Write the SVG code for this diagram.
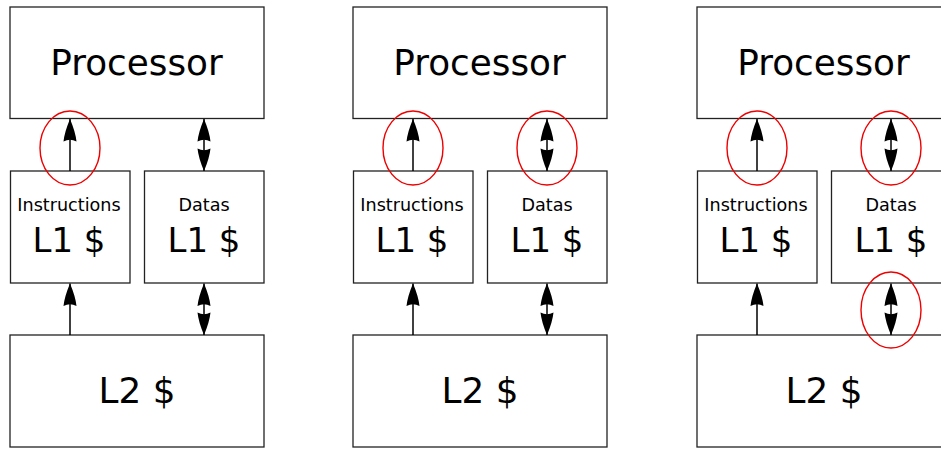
<svg xmlns="http://www.w3.org/2000/svg" xmlns:xlink="http://www.w3.org/1999/xlink" width="941" height="449" viewBox="0 0 941 449">
<style>
.box{fill:#fff;stroke:#222;stroke-width:1.3}
.big{font-family:"DejaVu Sans",sans-serif;font-size:35.8px;fill:#000;text-anchor:middle}
.l1{font-family:"DejaVu Sans",sans-serif;font-size:34px;fill:#000;text-anchor:middle}
.small{font-family:"DejaVu Sans",sans-serif;font-size:17.6px;fill:#000;text-anchor:middle}
.conn{stroke:#000;stroke-width:1.5;fill:none}
.hl{fill:none;stroke:#e00;stroke-width:1.4}
</style>
<defs>
<marker id="ah" viewBox="0 0 23 14" markerUnits="userSpaceOnUse" markerWidth="23" markerHeight="14" refX="23" refY="7" orient="auto-start-reverse">
<path d="M23,7 Q10,1.5 0.5,0.5 Q4,7 0.5,13.5 Q10,12.5 23,7 Z" fill="#000"/>
</marker>
</defs>
<g id="panel1">
<g id="p1-processor"><rect class="box" x="10" y="7" width="254" height="111.5"/><text class="big" x="136.5" y="75">Processor</text></g>
<g id="p1-il1"><rect class="box" x="10.5" y="171" width="119.5" height="112"/><text class="small" x="69" y="211">Instructions</text><text class="l1" x="69" y="251.5">L1 $</text></g>
<g id="p1-dl1"><rect class="box" x="144.5" y="171" width="119.5" height="112"/><text class="small" x="204" y="211">Datas</text><text class="l1" x="204" y="251.5">L1 $</text></g>
<g id="p1-l2"><rect class="box" x="10" y="335" width="254" height="112"/><text class="big" x="137" y="402.5">L2 $</text></g>
<g id="p1-connectors">
<line class="conn" x1="70" y1="171" x2="70" y2="119" marker-end="url(#ah)"/>
<line class="conn" x1="204" y1="119" x2="204" y2="171" marker-start="url(#ah)" marker-end="url(#ah)"/>
<line class="conn" x1="70" y1="335" x2="70" y2="283.5" marker-end="url(#ah)"/>
<line class="conn" x1="204" y1="283.5" x2="204" y2="335" marker-start="url(#ah)" marker-end="url(#ah)"/>
</g>
<ellipse class="hl" cx="70" cy="148" rx="30" ry="37"/>
</g>
<g id="panel2" transform="translate(343,0)">
<g id="p2-processor"><rect class="box" x="10" y="7" width="254" height="111.5"/><text class="big" x="136.5" y="75">Processor</text></g>
<g id="p2-il1"><rect class="box" x="10.5" y="171" width="119.5" height="112"/><text class="small" x="69" y="211">Instructions</text><text class="l1" x="69" y="251.5">L1 $</text></g>
<g id="p2-dl1"><rect class="box" x="144.5" y="171" width="119.5" height="112"/><text class="small" x="204" y="211">Datas</text><text class="l1" x="204" y="251.5">L1 $</text></g>
<g id="p2-l2"><rect class="box" x="10" y="335" width="254" height="112"/><text class="big" x="137" y="402.5">L2 $</text></g>
<g id="p2-connectors">
<line class="conn" x1="70" y1="171" x2="70" y2="119" marker-end="url(#ah)"/>
<line class="conn" x1="204" y1="119" x2="204" y2="171" marker-start="url(#ah)" marker-end="url(#ah)"/>
<line class="conn" x1="70" y1="335" x2="70" y2="283.5" marker-end="url(#ah)"/>
<line class="conn" x1="204" y1="283.5" x2="204" y2="335" marker-start="url(#ah)" marker-end="url(#ah)"/>
</g>
<ellipse class="hl" cx="70" cy="148" rx="30" ry="37"/>
<ellipse class="hl" cx="204" cy="148" rx="30" ry="37"/>
</g>
<g id="panel3" transform="translate(687,0)">
<g id="p3-processor"><rect class="box" x="10" y="7" width="254" height="111.5"/><text class="big" x="136.5" y="75">Processor</text></g>
<g id="p3-il1"><rect class="box" x="10.5" y="171" width="119.5" height="112"/><text class="small" x="69" y="211">Instructions</text><text class="l1" x="69" y="251.5">L1 $</text></g>
<g id="p3-dl1"><rect class="box" x="144.5" y="171" width="119.5" height="112"/><text class="small" x="204" y="211">Datas</text><text class="l1" x="204" y="251.5">L1 $</text></g>
<g id="p3-l2"><rect class="box" x="10" y="335" width="254" height="112"/><text class="big" x="137" y="402.5">L2 $</text></g>
<g id="p3-connectors">
<line class="conn" x1="70" y1="171" x2="70" y2="119" marker-end="url(#ah)"/>
<line class="conn" x1="204" y1="119" x2="204" y2="171" marker-start="url(#ah)" marker-end="url(#ah)"/>
<line class="conn" x1="70" y1="335" x2="70" y2="283.5" marker-end="url(#ah)"/>
<line class="conn" x1="204" y1="283.5" x2="204" y2="335" marker-start="url(#ah)" marker-end="url(#ah)"/>
</g>
<ellipse class="hl" cx="70" cy="148" rx="30" ry="37"/>
<ellipse class="hl" cx="204" cy="148" rx="30" ry="37"/>
<ellipse class="hl" cx="204" cy="310" rx="30" ry="38"/>
</g>
</svg>
